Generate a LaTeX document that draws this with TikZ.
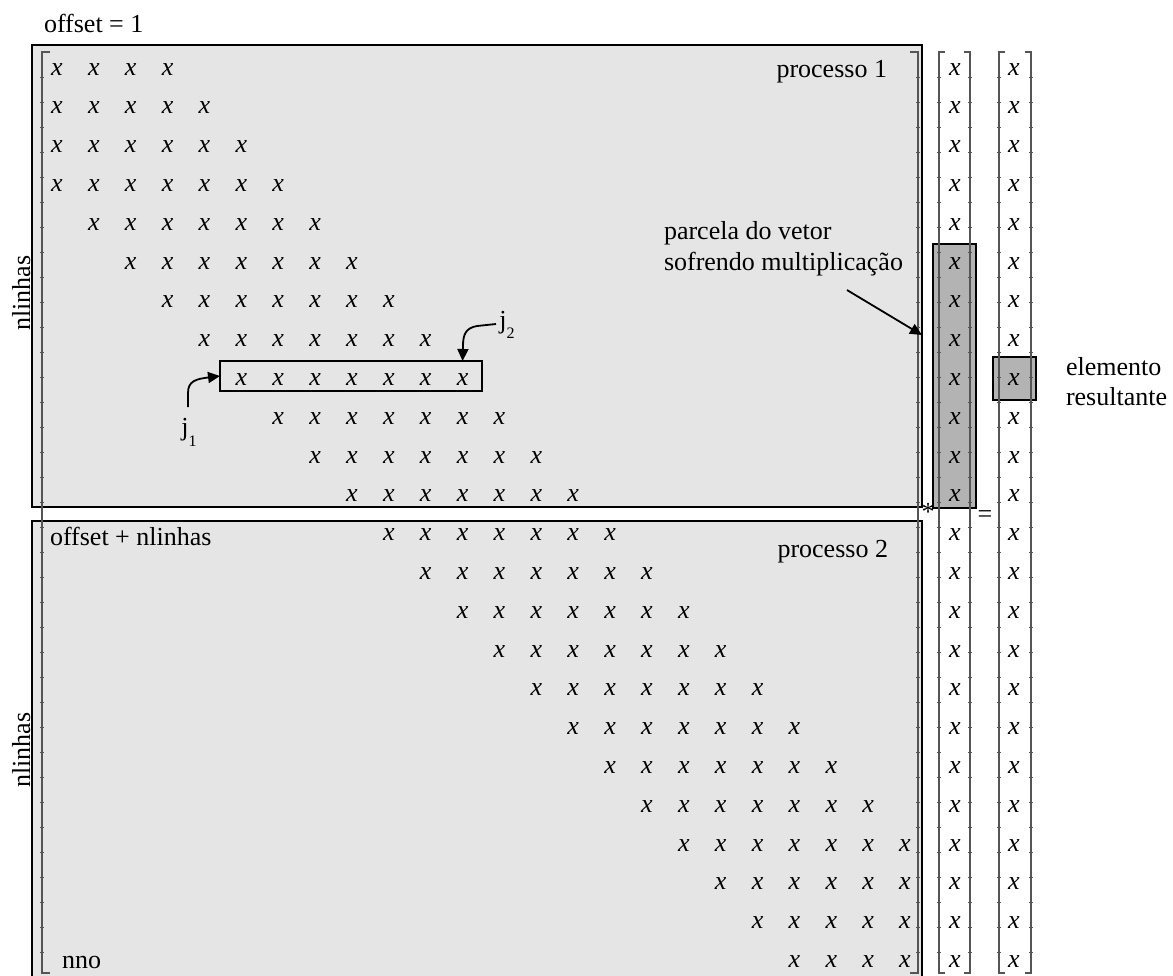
\documentclass[tikz,border=0pt]{standalone}
\usepackage{fontspec}
\setmainfont{Liberation Serif}
\usetikzlibrary{arrows.meta,calc}
\definecolor{boxgray}{HTML}{E5E5E5}
\definecolor{hlgray}{HTML}{B3B3B3}
\definecolor{brkgray}{HTML}{555555}
\begin{document}
\begin{tikzpicture}[x=1pt,y=-1pt,
  every node/.style={font=\fontsize{26}{30}\selectfont, inner sep=0pt, outer sep=0pt},
  ent/.style={anchor=base, font=\fontsize{26}{30}\selectfont\itshape},
  txt/.style={anchor=base west},
  procbox/.style={draw=black, line width=2pt, fill=boxgray, anchor=north west},
  hlbox/.style={draw=black, line width=1.8pt, fill=hlgray, anchor=north west},
  rowframe/.style={draw=black, line width=1.6pt, anchor=north west},
  brk/.style={draw=brkgray, line width=1.2pt},
  tick/.style={draw=brkgray, line width=0.7pt},
  arr/.style={draw=black, line width=1.8pt, -{Triangle[length=12pt,width=11pt]}},
]
\useasboundingbox (0,0) rectangle (1173,975);

% process boxes
\node[procbox, minimum width=890pt, minimum height=462pt] (p1) at (32,45) {};
\node[procbox, minimum width=890pt, minimum height=480pt] (p2) at (32,521) {};

% highlighted row
\node[rowframe, minimum width=262pt, minimum height=30pt] (rowbox) at (220,361) {};

% highlight on vector and result
\node[hlbox, minimum width=43pt, minimum height=264pt] (hl) at (933,244) {};
\node[hlbox, minimum width=43pt, minimum height=43pt] (res) at (993,357) {};

% brackets
\draw[brk] (50,52) -- (42,52) -- (42,973) -- (50,973);
\draw[brk] (910,52) -- (918,52) -- (918,973) -- (910,973);
\draw[brk] (945,52) -- (939,52) -- (939,973) -- (945,973);
\draw[brk] (964,52) -- (970,52) -- (970,973) -- (964,973);
\draw[brk] (1005,52) -- (999,52) -- (999,973) -- (1005,973);
\draw[brk] (1025,52) -- (1031,52) -- (1031,973) -- (1025,973);
\foreach \lx in {42,918,939,970,999,1031}
  \foreach \k in {1,...,36}
    \draw[tick] ({\lx-2},{52+25*\k}) -- ({\lx+2},{52+25*\k});

% matrix entries
\foreach \i in {1,...,24}{
  \pgfmathtruncatemacro\s{max(1,\i-3)}
  \pgfmathtruncatemacro\e{min(24,\i+3)}
  \foreach \c in {\s,...,\e}
    \node[ent] (m-\i-\c) at ({57+(\c-1)*36.87},{75+(\i-1)*38.8}) {x};
  \node[ent] (v-\i) at (955,{75+(\i-1)*38.8}) {x};
  \node[ent] (r-\i) at (1014,{75+(\i-1)*38.8}) {x};
}

% texts
\node[txt] (off1) at (44,32) {offset = 1};
\node[anchor=base east] (proc1) at (887,77) {processo 1};
\node[txt] (off2) at (50,545) {offset + nlinhas};
\node[anchor=base east] (proc2) at (888,557) {processo 2};
\node[txt] (nno) at (62,968) {nno};
\node[rotate=90, anchor=base] (nl1) at (30,293) {nlinhas};
\node[rotate=90, anchor=base] (nl2) at (30,750) {nlinhas};
\node[txt] (parc1) at (664,239) {parcela do vetor};
\node[txt] (parc2) at (664,270) {sofrendo multiplicação};
\node[txt] (elem1) at (1066,375) {elemento};
\node[txt] (elem2) at (1066,405) {resultante};
\node[anchor=base] (times) at (928,520) {*};
\node[anchor=base] (eq) at (985,522) {=};
\node[anchor=base] (j1) at (189,435) {j\raisebox{-11pt}{\fontsize{16}{16}\selectfont 1}};
\node[anchor=base] (j2) at (507,328) {j\raisebox{-10pt}{\fontsize{16}{16}\selectfont 2}};

% arrows
\coordinate (j1s) at (188,407);
\draw[arr] (j1s) -- (188,393) .. controls (188,381) and (196,379) .. (rowbox.west);
\coordinate (j2s) at (496,324);
\coordinate (j2t) at (rowbox.north -| m-9-12);
\draw[arr] (j2s) -- (477,326) .. controls (466,328) and (463,334) .. (463,346) -- (j2t);
\coordinate (ps) at (847,290);
\coordinate (pt) at (922,335);
\draw[arr] (ps) -- (pt);
\end{tikzpicture}
\end{document}
